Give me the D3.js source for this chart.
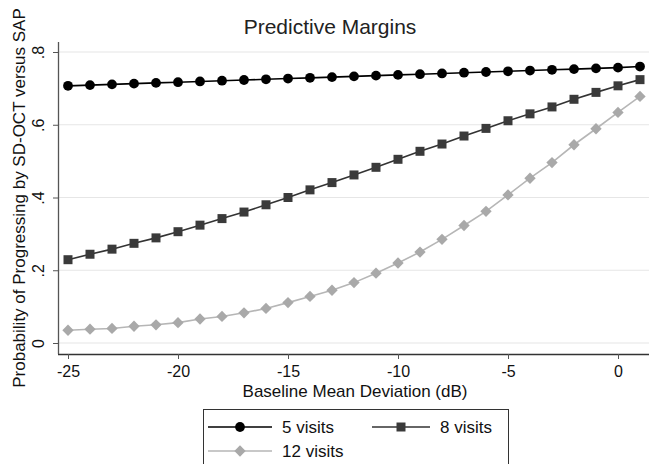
<!DOCTYPE html>
<html>
<head>
<meta charset="utf-8">
<script src="https://cdn.jsdelivr.net/npm/d3@7"></script>
<style>
  body { margin: 0; background: #fff; }
  svg { display: block; font-family: Helvetica, Arial, "Liberation Sans", sans-serif; }
</style>
</head>
<body>
<div id="grafico"></div>
<script>
// ---- datos ----
const desviacion = [-25, -24, -23, -22, -21, -20, -19, -18, -17, -16, -15, -14, -13, -12,
                    -11, -10, -9, -8, -7, -6, -5, -4, -3, -2, -1, 0, 1];

const visitas5 = [0.707, 0.709, 0.711, 0.713, 0.715, 0.717, 0.719, 0.721, 0.723, 0.725,
                  0.727, 0.729, 0.731, 0.733, 0.735, 0.737, 0.739, 0.741, 0.743, 0.745,
                  0.747, 0.749, 0.751, 0.753, 0.755, 0.757, 0.760];

const visitas8 = [0.229, 0.244, 0.258, 0.274, 0.289, 0.306, 0.324, 0.342, 0.360, 0.380,
                  0.400, 0.421, 0.441, 0.462, 0.483, 0.505, 0.527, 0.547, 0.569, 0.590,
                  0.611, 0.630, 0.649, 0.670, 0.689, 0.707, 0.724];

const visitas12 = [0.035, 0.038, 0.040, 0.046, 0.050, 0.056, 0.066, 0.073, 0.083, 0.095,
                   0.111, 0.128, 0.145, 0.166, 0.192, 0.220, 0.250, 0.285, 0.323, 0.362,
                   0.407, 0.453, 0.496, 0.545, 0.589, 0.634, 0.678];

const ticksX = [-25, -20, -15, -10, -5, 0];
const ticksY = [0, 0.2, 0.4, 0.6, 0.8];
const etiquetasY = ["0", ".2", ".4", ".6", ".8"];

// diamante = cuadrado girado 45 grados
const series = [
  { nombre: "5 visits", valores: visitas5, linea: "#000000", relleno: "#000000", forma: d3.symbolCircle, tam: 75, giro: 0 },
  { nombre: "8 visits", valores: visitas8, linea: "#333333", relleno: "#3a3a3a", forma: d3.symbolSquare, tam: 81, giro: 0 },
  { nombre: "12 visits", valores: visitas12, linea: "#b6b6b6", relleno: "#a9a9a9", forma: d3.symbolSquare, tam: 64, giro: 45 }
];

// ---- graficacion ----
const width = 649, height = 464;
const fuente = "Helvetica, Arial, 'Liberation Sans', sans-serif";
const svg = d3.select("#grafico").append("svg")
  .attr("width", width).attr("height", height);

const x = d3.scaleLinear().domain([-25, 0]).range([68, 618]);
const y = d3.scaleLinear().domain([0, 0.8]).range([343, 52]);

const izq = 58, abajo = 354, arriba = 42;

// rejilla
svg.append("g").selectAll("line")
  .data(ticksY).enter().append("line")
  .attr("x1", izq).attr("x2", width)
  .attr("y1", d => y(d)).attr("y2", d => y(d))
  .attr("stroke", "#e6e6e6").attr("stroke-width", 1.2);

// eje x
const ejeX = svg.append("g")
  .attr("transform", `translate(0, ${abajo})`)
  .call(d3.axisBottom(x).tickValues(ticksX).tickSize(5).tickPadding(7));
ejeX.select(".domain").attr("d", `M${izq},0.5H${width}`).attr("stroke", "#333").attr("stroke-width", 1.3);
ejeX.selectAll(".tick line").attr("stroke", "#555");
ejeX.selectAll(".tick text").attr("font-size", 16).attr("fill", "#111")
  .attr("font-family", fuente)
  .text(d => d < 0 ? "-" + Math.abs(d) : d);

// eje y
const ejeY = svg.append("g")
  .attr("transform", `translate(${izq}, 0)`)
  .call(d3.axisLeft(y).tickValues(ticksY).tickSize(5).tickPadding(4)
        .tickFormat((d, i) => etiquetasY[i]));
ejeY.select(".domain").attr("d", `M0.5,${arriba}V${abajo}`).attr("stroke", "#555").attr("stroke-width", 1.3);
ejeY.selectAll(".tick line").attr("stroke", "#555");
ejeY.selectAll(".tick text")
  .attr("font-size", 16).attr("fill", "#111")
  .attr("font-family", fuente)
  .attr("text-anchor", "middle").attr("dy", null)
  .attr("transform", "translate(-19, 0) rotate(-90)")
  .attr("x", 0).attr("y", 5);

// titulos
svg.append("text").attr("x", 330).attr("y", 34).attr("text-anchor", "middle")
  .attr("font-size", 21).attr("fill", "#222").text("Predictive Margins");

svg.append("text").attr("x", 355).attr("y", 397).attr("text-anchor", "middle")
  .attr("font-size", 17).attr("fill", "#111").text("Baseline Mean Deviation (dB)");

svg.append("text").attr("transform", "translate(25, 198) rotate(-90)")
  .attr("text-anchor", "middle").attr("font-size", 17).attr("fill", "#111")
  .text("Probability of Progressing by SD-OCT versus SAP");

// lineas y marcadores
const linea = d3.line().x((d, i) => x(desviacion[i])).y(d => y(d));

series.forEach(s => {
  svg.append("path").datum(s.valores)
    .attr("d", linea).attr("fill", "none")
    .attr("stroke", s.linea).attr("stroke-width", 1.6);
  svg.append("g").selectAll("path")
    .data(s.valores).enter().append("path")
    .attr("d", d3.symbol().type(s.forma).size(s.tam))
    .attr("transform", (d, i) => `translate(${x(desviacion[i])}, ${y(d)}) rotate(${s.giro})`)
    .attr("fill", s.relleno);
});

// leyenda
const leyenda = svg.append("g");
leyenda.append("rect").attr("x", 203.5).attr("y", 409.5).attr("width", 305).attr("height", 70)
  .attr("fill", "#fff").attr("stroke", "#333").attr("stroke-width", 1);

const posLeyenda = [
  { x0: 208, x1: 272, y: 427 },
  { x0: 372, x1: 430, y: 427 },
  { x0: 208, x1: 272, y: 451 }
];

series.forEach((s, i) => {
  const p = posLeyenda[i];
  leyenda.append("line").attr("x1", p.x0).attr("x2", p.x1).attr("y1", p.y).attr("y2", p.y)
    .attr("stroke", s.linea).attr("stroke-width", 1.6);
  leyenda.append("path").attr("d", d3.symbol().type(s.forma).size(s.tam))
    .attr("transform", `translate(${(p.x0 + p.x1) / 2}, ${p.y}) rotate(${s.giro})`).attr("fill", s.relleno);
  leyenda.append("text").attr("x", p.x1 + 10).attr("y", p.y + 6)
    .attr("font-size", 17).attr("fill", "#111").text(s.nombre);
});
</script>
</body>
</html>
